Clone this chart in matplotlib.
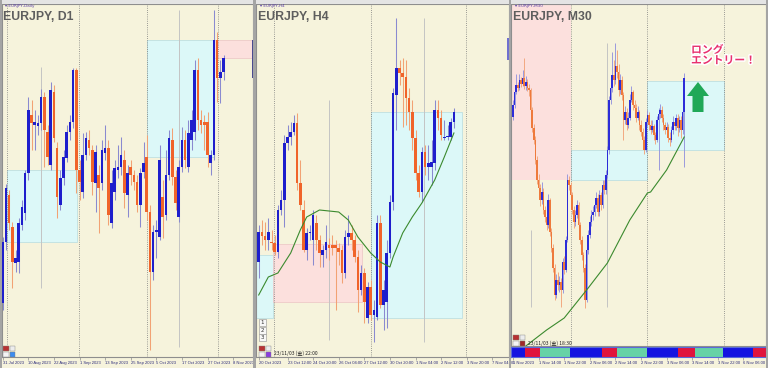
import numpy as np
import matplotlib.pyplot as plt
from matplotlib.patches import Rectangle, Polygon
import matplotlib.patheffects as pe

# ---------------- data (prices) ----------------
# EURJPY D1, 31 Jul 2023 .. early Nov 2023
d1_open = [156.94, 158.16, 159.10, 158.46, 157.74, 157.76, 158.50, 158.74, 159.54, 160.70,
           160.50, 160.48, 160.54, 161.06, 160.36, 159.70, 161.16, 160.04, 158.90, 159.44,
           159.84, 160.36, 160.56, 161.60, 159.60, 159.16, 159.90, 160.20, 160.00, 159.34,
           159.50, 159.34, 159.94, 160.04, 158.54, 159.16, 159.60, 159.66, 159.80, 159.10,
           159.66, 159.50, 159.36, 158.90, 159.56, 159.86, 158.76, 157.56, 158.36, 158.26,
           159.06, 158.70, 159.50, 160.20, 159.46, 158.66, 159.66, 160.20, 159.66, 160.20,
           160.36, 161.60, 160.60, 160.56, 160.56, 159.74, 159.90, 162.20, 161.44, 161.56]
d1_high = [158.26, 159.32, 159.20, 158.56, 158.00, 158.64, 159.00, 159.60, 161.06, 161.00,
           160.80, 160.70, 161.22, 161.16, 160.50, 161.36, 161.30, 160.16, 159.60, 160.00,
           160.50, 160.70, 161.64, 161.64, 159.80, 160.34, 160.36, 160.40, 160.10, 160.10,
           159.70, 160.20, 160.50, 160.20, 159.60, 159.80, 160.10, 160.26, 160.00, 159.70,
           159.80, 159.60, 159.50, 159.64, 160.16, 160.30, 158.90, 158.50, 158.60, 160.10,
           159.40, 160.00, 160.40, 160.44, 159.60, 159.80, 160.46, 160.40, 160.60, 160.80,
           161.80, 161.84, 160.80, 160.70, 160.76, 160.00, 162.80, 162.36, 161.80, 161.90]
d1_low = [156.80, 158.00, 158.40, 157.24, 157.56, 157.54, 158.40, 158.60, 159.40, 160.00,
          160.00, 160.30, 160.40, 159.66, 159.70, 159.60, 160.16, 158.64, 158.80, 159.30,
          159.76, 160.20, 160.44, 159.14, 159.00, 159.04, 159.80, 159.90, 159.10, 158.76,
          158.34, 159.20, 159.80, 158.50, 158.44, 159.00, 159.44, 159.50, 158.84, 158.66,
          159.30, 159.20, 158.76, 158.46, 159.44, 158.60, 156.00, 157.40, 157.84, 158.20,
          158.24, 158.60, 159.40, 159.30, 158.80, 158.56, 159.56, 159.64, 159.56, 160.00,
          160.20, 160.40, 160.34, 160.00, 159.66, 159.50, 159.80, 160.96, 160.94, 161.40]
d1_close = [158.16, 159.24, 158.54, 157.76, 157.84, 158.54, 158.86, 159.54, 160.80, 160.54,
            160.56, 160.54, 161.06, 160.40, 159.86, 161.20, 160.24, 159.06, 159.44, 159.86,
            160.36, 160.56, 161.60, 159.60, 159.36, 159.90, 160.24, 160.04, 159.36, 159.96,
            159.24, 160.00, 160.04, 158.70, 159.34, 159.64, 159.66, 159.90, 159.14, 159.54,
            159.50, 159.36, 158.90, 159.54, 159.74, 158.76, 157.56, 158.36, 158.40, 159.80,
            158.66, 159.50, 160.24, 159.46, 158.94, 159.66, 160.20, 159.80, 160.34, 160.60,
            161.60, 160.60, 160.50, 160.50, 159.90, 159.90, 162.20, 161.44, 161.56, 161.84]
d1_tick_bars = [0, 8, 16, 24, 32, 40, 48, 56, 64, 72]
d1_tick_labels = ["31 Jul 2023", "10 Aug 2023", "22 Aug 2023", "1 Sep 2023", "13 Sep 2023",
                  "25 Sep 2023", "5 Oct 2023", "17 Oct 2023", "27 Oct 2023", "8 Nov 2023"]
d1_separators = [1.3, 23.8, 45.1, 67.3]
# zones: (bar from, bar to, price low, price high)
d1_cyan = [(1.3, 23.2, 158.16, 159.60), (45.1, 66.0, 159.86, 162.20)]
d1_pink = [(66.0, 78.5, 161.84, 162.20)]
d1_vlines = [(12, 157.24, 161.66), (55.2, 156.06, 162.80)]

# EURJPY H4, 20 Oct .. 3 Nov 2023
h4_open = [158.88, 159.18, 159.14, 159.10, 159.08, 159.07, 158.98, 159.40, 159.50, 160.07,
           160.13, 160.18, 160.27, 159.67, 159.40, 159.00, 159.17, 159.10, 159.27, 159.10,
           158.95, 159.00, 159.05, 159.05, 159.05, 159.02, 159.00, 158.77, 159.13, 159.17,
           159.10, 158.93, 158.60, 158.77, 158.32, 158.63, 158.35, 158.33, 159.27, 158.45,
           158.48, 158.97, 159.48, 160.55, 160.82, 160.77, 160.73, 160.52, 160.38, 160.12,
           159.77, 159.58, 159.98, 159.83, 159.83, 159.87, 160.40, 160.32, 160.12, 160.13,
           160.13, 160.28]
h4_high = [159.25, 159.30, 159.28, 159.32, 159.20, 159.15, 159.45, 159.60, 160.15, 160.25,
           160.28, 160.35, 160.37, 159.90, 159.50, 159.22, 159.25, 159.40, 159.35, 159.15,
           159.05, 159.25, 159.12, 159.15, 159.10, 159.07, 159.05, 159.20, 159.35, 159.25,
           159.15, 159.00, 158.85, 158.82, 158.68, 158.70, 158.50, 159.35, 159.35, 158.70,
           159.10, 159.55, 160.62, 161.32, 160.90, 160.92, 160.90, 160.62, 160.50, 160.20,
           159.85, 160.03, 160.05, 160.05, 160.10, 160.50, 160.50, 160.40, 160.30, 160.25,
           160.32, 160.42]
h4_low = [158.72, 159.05, 159.00, 159.00, 159.00, 158.95, 158.92, 159.35, 159.23, 160.00,
          160.05, 160.15, 159.60, 159.40, 158.98, 158.90, 159.10, 158.85, 159.00, 158.83,
          158.83, 158.92, 158.90, 158.95, 158.40, 158.85, 158.67, 158.72, 159.05, 159.00,
          158.88, 158.38, 158.55, 158.27, 158.27, 158.30, 158.08, 158.30, 158.42, 158.20,
          158.22, 158.92, 159.40, 160.20, 160.65, 160.23, 160.25, 160.20, 160.00, 159.70,
          159.53, 159.48, 159.75, 159.70, 159.65, 159.80, 160.20, 160.10, 160.10, 160.10,
          160.10, 160.22]
h4_close = [159.18, 159.14, 159.10, 159.18, 159.07, 158.98, 159.40, 159.50, 160.07, 160.13,
            160.18, 160.27, 159.67, 159.45, 159.00, 159.17, 159.18, 159.35, 159.10, 158.97,
            159.00, 159.08, 159.02, 159.02, 159.02, 158.98, 158.77, 159.13, 159.17, 159.10,
            158.93, 158.60, 158.77, 158.48, 158.63, 158.35, 158.40, 159.27, 158.45, 158.60,
            158.97, 159.48, 160.57, 160.82, 160.77, 160.73, 160.52, 160.38, 160.12, 159.77,
            159.58, 159.98, 159.83, 159.87, 159.88, 160.40, 160.32, 160.15, 160.13, 160.14,
            160.28, 160.38]
h4_ma_bar = [0, 3, 6, 10, 13, 15, 19, 25, 28, 31, 35, 38, 41, 42, 45, 48, 51, 55, 58, 61]
h4_ma = [158.55, 158.73, 158.77, 158.97, 159.20, 159.33, 159.40, 159.38, 159.30, 159.13,
         158.97, 158.88, 158.83, 158.93, 159.17, 159.33, 159.47, 159.70, 159.93, 160.17]
h4_tick_bars = [0, 9, 17, 25, 33, 41, 49, 57, 65, 73]
h4_tick_labels = ["20 Oct 2023", "23 Oct 12:00", "24 Oct 20:00", "26 Oct 04:00", "27 Oct 12:00",
                  "30 Oct 20:00", "1 Nov 04:00", "2 Nov 12:00", "3 Nov 20:00", "7 Nov 04:00"]
h4_separators = [4.8, 35.1, 64.8]
h4_cyan = [(-1.0, 4.5, 158.32, 158.95), (35.1, 63.6, 158.32, 160.38)]
h4_pink = [(4.5, 32.3, 158.48, 159.06)]
h4_vlines = [(22.0, 158.10, 160.50), (51.7, 158.08, 161.32)]

# EURJPY M30, 1 Nov .. 3 Nov 2023
m30_close = [160.675, 160.740, 160.775, 160.760, 160.800, 160.780, 160.810, 160.770, 160.790, 160.760,
             160.750, 160.650, 160.560, 160.500, 160.400, 160.300, 160.260, 160.200, 160.240, 160.150,
             160.115, 160.075, 160.200, 160.040, 159.960, 159.860, 159.725, 159.800, 159.775, 159.790,
             159.750, 159.890, 159.850, 160.000, 160.300, 160.275, 160.225, 160.150, 160.090, 160.125,
             160.175, 160.075, 160.000, 159.925, 159.860, 159.700, 159.950, 160.025, 160.090, 160.125,
             160.140, 160.175, 160.210, 160.140, 160.225, 160.175, 160.275, 160.250, 160.325, 160.450,
             160.700, 160.760, 160.825, 160.800, 160.870, 160.840, 160.750, 160.800, 160.725, 160.600,
             160.640, 160.575, 160.610, 160.700, 160.740, 160.675, 160.660, 160.610, 160.640, 160.575,
             160.540, 160.500, 160.450, 160.590, 160.625, 160.575, 160.550, 160.570, 160.525, 160.500,
             160.600, 160.630, 160.650, 160.610, 160.575, 160.550, 160.565, 160.510, 160.500, 160.550,
             160.590, 160.570, 160.610, 160.560, 160.600, 160.550, 160.640, 160.810]
m30_high = [160.700, 160.760, 160.830, 160.790, 160.830, 160.815, 160.850, 160.910, 160.820, 160.805,
            160.780, 160.760, 160.665, 160.580, 160.520, 160.420, 160.330, 160.280, 160.290, 160.260,
            160.170, 160.130, 160.230, 160.210, 160.060, 159.980, 159.880, 159.830, 159.840, 159.820,
            159.810, 159.910, 159.920, 160.020, 160.330, 160.320, 160.290, 160.240, 160.170, 160.150,
            160.200, 160.190, 160.090, 160.020, 159.940, 159.880, 159.970, 160.050, 160.120, 160.150,
            160.170, 160.200, 160.240, 160.230, 160.250, 160.240, 160.300, 160.300, 160.350, 160.470,
            160.720, 160.790, 160.940, 160.900, 160.985, 160.950, 160.880, 160.830, 160.820, 160.740,
            160.670, 160.660, 160.640, 160.730, 160.770, 160.750, 160.700, 160.680, 160.670, 160.650,
            160.600, 160.560, 160.520, 160.610, 160.650, 160.640, 160.600, 160.600, 160.580, 160.540,
            160.620, 160.660, 160.680, 160.670, 160.630, 160.590, 160.590, 160.580, 160.540, 160.570,
            160.620, 160.610, 160.630, 160.630, 160.620, 160.620, 160.660, 160.835]
m30_low = [160.600, 160.660, 160.730, 160.745, 160.750, 160.765, 160.770, 160.755, 160.750, 160.745,
           160.720, 160.630, 160.540, 160.480, 160.380, 160.280, 160.220, 160.170, 160.180, 160.130,
           160.090, 160.050, 160.060, 160.020, 159.940, 159.840, 159.700, 159.710, 159.750, 159.740,
           159.665, 159.735, 159.830, 159.840, 159.990, 160.250, 160.200, 160.130, 160.060, 160.070,
           160.110, 160.050, 159.980, 159.900, 159.840, 159.660, 159.690, 159.930, 160.010, 160.070,
           160.100, 160.120, 160.160, 160.120, 160.120, 160.150, 160.160, 160.230, 160.230, 160.310,
           160.430, 160.680, 160.740, 160.770, 160.780, 160.810, 160.720, 160.730, 160.700, 160.500,
           160.580, 160.550, 160.560, 160.600, 160.690, 160.650, 160.640, 160.590, 160.600, 160.550,
           160.520, 160.480, 160.430, 160.440, 160.570, 160.550, 160.530, 160.540, 160.500, 160.480,
           160.490, 160.350, 160.610, 160.590, 160.550, 160.530, 160.530, 160.490, 160.470, 160.490,
           160.530, 160.550, 160.550, 160.520, 160.540, 160.510, 160.530, 160.365]
m30_first_open = 160.615
m30_open = [m30_first_open] + m30_close[:-1]
m30_ma_bar = [8, 21, 32, 47, 59, 73, 84, 86, 96, 107]
m30_ma = [159.470, 159.550, 159.610, 159.760, 159.885, 160.100, 160.235, 160.240, 160.350, 160.515]
m30_tick_bars = [0, 16, 32, 48, 64, 80, 96, 112, 128, 144]
m30_tick_labels = ["1 Nov 2023", "1 Nov 14:00", "1 Nov 22:00", "2 Nov 06:00", "2 Nov 14:00",
                   "2 Nov 22:00", "3 Nov 06:00", "3 Nov 14:00", "3 Nov 22:00", "6 Nov 06:00"]
m30_separators = [36.25, 83.75, 131.9]
m30_cyan = [(36.25, 83.75, 160.300, 160.450), (83.75, 131.9, 160.450, 160.795)]
m30_pink = [(-1.5, 36.25, 160.300, 161.30)]
m30_vlines = [(11.25, 159.665, 160.050), (58.75, 159.665, 160.985)]
# session strip: start bars and colours
session_start = [-1.25, 7.5, 16.9, 35.6, 55.6, 65.0, 83.75, 103.1, 113.75, 131.25, 150.0, 160.0]
session_kind = ["tokyo", "london", "ny", "tokyo", "london", "ny", "tokyo", "london", "ny", "tokyo", "london"]

# ---------------- styling ----------------
W, H = 768, 368
BG = '#F6F3DC'
CYAN = '#DCF8F8'
PINK = '#FCE0DD'
FRAME = '#8E8E8E'
LABEL = '#2B2B7A'
MA_COLOR = '#3B8A2E'
SESSION_COLORS = {"tokyo": '#1414E0', "london": '#E0143C', "ny": '#66D2A6'}

fig = plt.figure(figsize=(W / 100, H / 100), dpi=100, facecolor=BG)


def axes_px(x0, y0, x1, y1):
    return fig.add_axes([x0 / W, 1 - y1 / H, (x1 - x0) / W, (y1 - y0) / H])


def fig_rect(x, y, w, h, color, edge='none', lw=0.0):
    fig.patches.append(Rectangle((x / W, 1 - (y + h) / H), w / W, h / H,
                                 transform=fig.transFigure, facecolor=color,
                                 edgecolor=edge, linewidth=lw, zorder=5))


def style(ax, xlim, ylim):
    ax.set_facecolor(BG)
    ax.set_xlim(*xlim)
    ax.set_ylim(*ylim)
    ax.set_yticks([])
    for s in ax.spines.values():
        s.set_color(FRAME)
        s.set_linewidth(0.8)


def set_time_axis(ax, bars, labels):
    ax.set_xticks(bars)
    ax.set_xticklabels(labels, fontsize=3.0, color=LABEL, ha='left', family='Liberation Sans')
    ax.tick_params(axis='x', length=2, width=0.5, color=FRAME, pad=1.0)


def zones(ax, boxes, color, edge):
    for x0, x1, y0, y1 in boxes:
        ax.add_patch(Rectangle((x0, y0), x1 - x0, y1 - y0, facecolor=color,
                               edgecolor=edge, linewidth=0.5, zorder=1))


def separators(ax, xs):
    for x in xs:
        ax.axvline(x, color='#7C7C7C', lw=0.6, ls=(0, (1, 1.6)), zorder=2)


def faint_lines(ax, items):
    for x, y0, y1 in items:
        ax.vlines(x, y0, y1, colors='#C4C4C4', lw=0.7, zorder=2)


def candles(ax, o, h, l, c, width, lw, minh, up='#1E1ECC', dn='#F0642A',
            upw='#8A8AD0', dnw='#F2A274'):
    o, h, l, c = (np.asarray(v) for v in (o, h, l, c))
    x = np.arange(len(o))
    rising = c >= o
    ax.vlines(x, l, h, colors=[upw if r else dnw for r in rising], lw=lw, zorder=3)
    ax.bar(x, np.maximum(np.abs(c - o), minh), bottom=np.minimum(o, c), width=width,
           color=[up if r else dn for r in rising], linewidth=0, zorder=4)


# ---------------- panel 1 : D1 ----------------
ax1 = axes_px(2, 4, 253, 357)
style(ax1, ((2 - 2.7) / 3.2, (253 - 2.7) / 3.2), (163 - 357 / 50, 163 - 4 / 50))
zones(ax1, d1_cyan, CYAN, '#B6DCDF')
zones(ax1, d1_pink, PINK, '#EBC4C4')
faint_lines(ax1, d1_vlines)
separators(ax1, d1_separators)
candles(ax1, d1_open, d1_high, d1_low, d1_close, width=0.78, lw=0.75, minh=0.02)
set_time_axis(ax1, d1_tick_bars, d1_tick_labels)

# ---------------- panel 2 : H4 ----------------
ax2 = axes_px(256, 4, 509, 357)
style(ax2, ((256 - 258.7) / 3.2, (509 - 258.7) / 3.2), (161.5 - 3.57, 161.5 - 0.04))
zones(ax2, h4_cyan, CYAN, '#B6DCDF')
zones(ax2, h4_pink, PINK, '#EBC4C4')
faint_lines(ax2, h4_vlines)
separators(ax2, h4_separators)
ax2.plot(h4_ma_bar, h4_ma, color=MA_COLOR, lw=0.8, zorder=5)
candles(ax2, h4_open, h4_high, h4_low, h4_close, width=0.78, lw=0.75, minh=0.01)
set_time_axis(ax2, h4_tick_bars, h4_tick_labels)

# ---------------- panel 3 : M30 ----------------
m30_xlim = ((511 - 513) / 1.6, (766 - 513) / 1.6)
ax3 = axes_px(511, 4, 766, 346)
style(ax3, m30_xlim, (161.2 - 346 / 200, 161.2 - 4 / 200))
ax3.set_xticks([])
zones(ax3, m30_pink, PINK, 'none')
zones(ax3, m30_cyan, CYAN, '#B6DCDF')
faint_lines(ax3, m30_vlines)
separators(ax3, m30_separators)
candles(ax3, m30_open, m30_high, m30_low, m30_close, width=0.9, lw=0.65, minh=0.005,
        up='#2C2CD8', dn='#EE7A3C', upw='#9494DC', dnw='#F2A47A')
ax3.plot(m30_ma_bar, m30_ma, color=MA_COLOR, lw=0.8, zorder=5, clip_on=True)

strip = axes_px(511, 347, 766, 357)
style(strip, m30_xlim, (0, 1))
for s in strip.spines.values():
    s.set_color('#5A6AD8')
for x0, x1, kind in zip(session_start[:-1], session_start[1:], session_kind):
    strip.axvspan(x0, x1, color=SESSION_COLORS[kind], lw=0)
set_time_axis(strip, m30_tick_bars, m30_tick_labels)

# green arrow + note
arrow = [(698, 82), (709, 96), (703.5, 96), (703.5, 112), (692.5, 112), (692.5, 96), (687, 96)]
fig.patches.append(Polygon([(x / W, 1 - y / H) for x, y in arrow], closed=True,
                           transform=fig.transFigure, facecolor='#20A857', edgecolor='none', zorder=6))
fig.text(691 / W, 1 - 45 / H, 'ロング\nエントリー！', ha='left', va='top', fontsize=7.8,
         weight='bold', color='#E8316E', family=['Noto Sans CJK JP'], linespacing=1.05,
         path_effects=[pe.withStroke(linewidth=2.2, foreground='white')], zorder=7)

# ---------------- window decorations ----------------
fig_rect(0, 0, W, 3.5, '#E4E4E4')
fig_rect(0, 0, 2, H, '#A4A4A4')
fig_rect(253, 0, 3, H, '#A4A4A4')
fig_rect(509, 0, 2, H, '#A4A4A4')
fig_rect(766, 0, 2, H, '#A4A4A4')
fig_rect(251.5, 40, 1.5, 38, '#4A4A90')
fig_rect(507, 38, 2, 22, '#7070D0')

title_font = ['Liberation Sans Narrow', 'Liberation Sans']
for x0, small, big in [(3, '▾ EURJPY,Daily', 'EURJPY, D1'),
                       (258, '▾ EURJPY,H4', 'EURJPY, H4'),
                       (513, '▾ EURJPY,M30', 'EURJPY, M30')]:
    fig.text((x0 + 2) / W, 1 - 6.5 / H, small, fontsize=3, color='#5A3EA8', va='center',
             family='DejaVu Sans', zorder=7)
    fig.text(x0 / W, 1 - 16.5 / H, big, fontsize=8.8, color='#5E5E5E', va='center',
             weight='bold', family=title_font, zorder=7)

# small terminal widgets at bottom-left corners
for x0, y0, c2 in [(3, 346, '#3C8CF0'), (259, 346, '#8A3CE0'), (513, 335, '#A02828')]:
    fig_rect(x0, y0, 6, 5, '#B83232', '#808080', 0.3)
    fig_rect(x0 + 7, y0, 5, 5, '#EDEDED', '#808080', 0.3)
    fig_rect(x0, y0 + 6, 6, 5, '#F4F4F4', '#808080', 0.3)
    fig_rect(x0 + 7, y0 + 6, 5, 5, c2, '#808080', 0.3)
for k, num in enumerate(['1', '2', '3']):
    fig_rect(259, 319 + 7.5 * k, 7, 7, '#F8F8F8', '#909090', 0.4)
    fig.text(262.5 / W, 1 - (322.5 + 7.5 * k) / H, num, fontsize=4, ha='center', va='center',
             color='#303030', zorder=7)

cjk = ['Noto Sans CJK JP', 'DejaVu Sans']
fig.text(274 / W, 1 - 353 / H, '23/11/03 (金) 22:00', fontsize=3.6, color='#202020', va='center',
         family=cjk, zorder=7)
fig.text(528 / W, 1 - 343 / H, '23/11/03 (金) 18:30', fontsize=3.6, color='#202020', va='center',
         family=cjk, zorder=7)

fig.savefig('out.png', dpi=100, facecolor=BG)
